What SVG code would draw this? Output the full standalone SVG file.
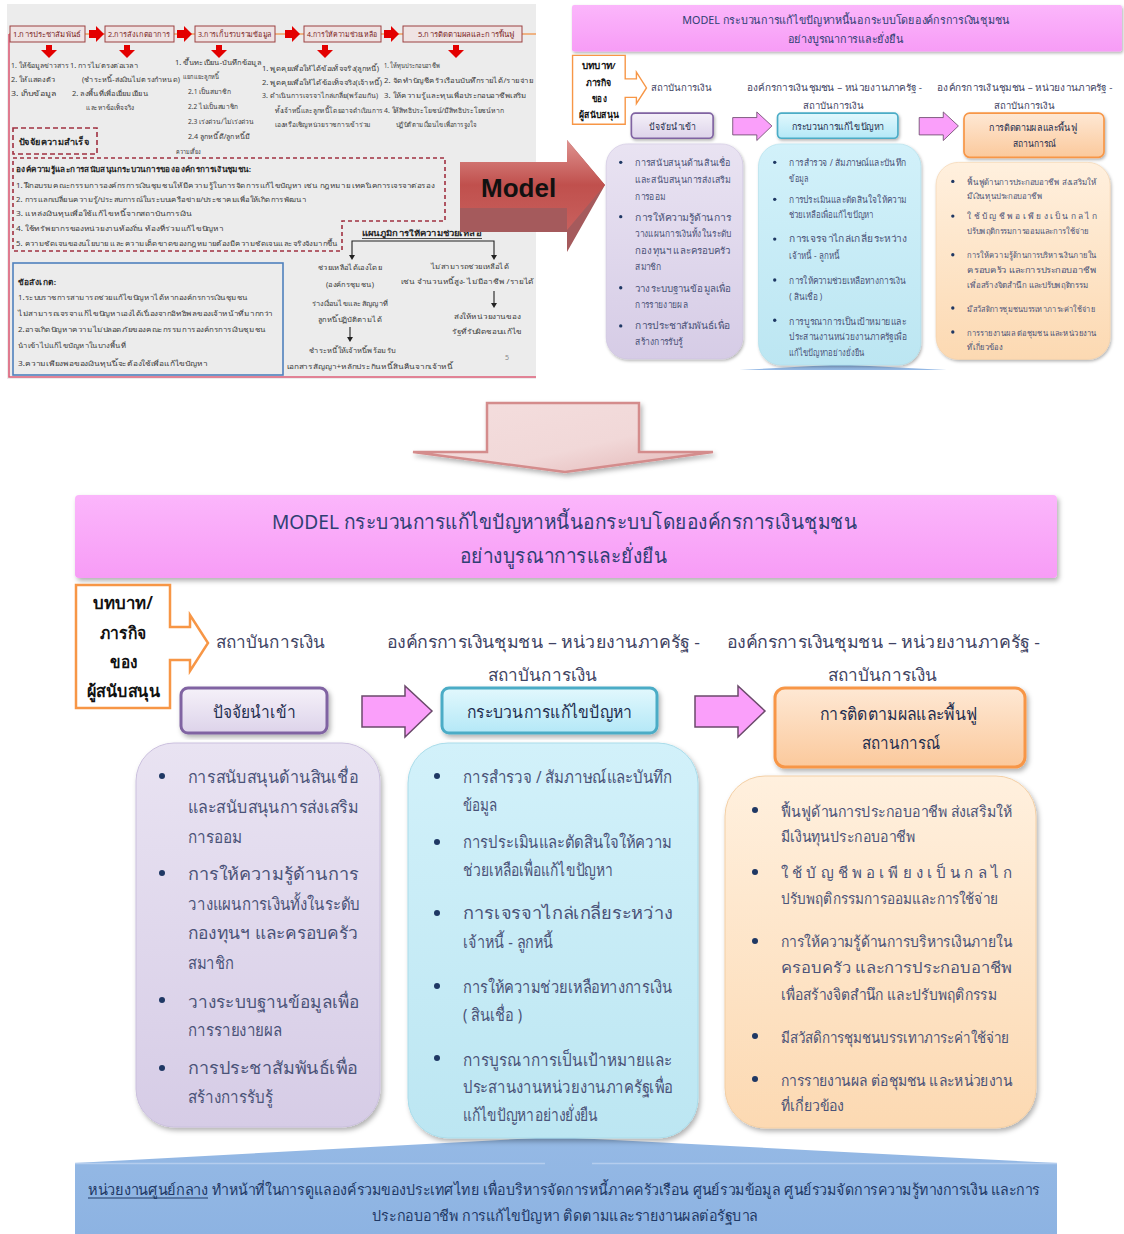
<svg xmlns="http://www.w3.org/2000/svg" xmlns:xlink="http://www.w3.org/1999/xlink" width="1124" height="1234" viewBox="0 0 1124 1234">
<style>
text{font-family:"Noto Sans","DejaVu Sans",sans-serif}
.b{font-size:17px;fill:#4b5378}
.o{font-size:15px;fill:#4b5378}
.lab{font-size:17px;fill:#3f4463}
.hd{font-size:17px;fill:#1f2d4e}
.cl{font-size:17px;fill:#111;font-weight:600}
.bul{fill:#1f3864}
.s{font-size:7px;fill:#3a3a3a}
.sb{font-size:7.5px;fill:#222;font-weight:bold}
.bx{font-size:7.5px;fill:#7a1d1d}
.bt{font-size:15px;fill:#1f3864}
</style>
<defs>
<linearGradient id="gTitle" x1="0" y1="0" x2="0" y2="1"><stop offset="0" stop-color="#fbb6fb"/><stop offset="1" stop-color="#f79cf6"/></linearGradient>
<linearGradient id="gPH" x1="0" y1="0" x2="0" y2="1"><stop offset="0" stop-color="#f5f1f9"/><stop offset="1" stop-color="#ddd3ea"/></linearGradient>
<linearGradient id="gCH" x1="0" y1="0" x2="0" y2="1"><stop offset="0" stop-color="#e2f8fd"/><stop offset="1" stop-color="#b4e8f7"/></linearGradient>
<linearGradient id="gOH" x1="0" y1="0" x2="0" y2="1"><stop offset="0" stop-color="#fee8d4"/><stop offset="1" stop-color="#fbc99c"/></linearGradient>
<linearGradient id="gPB" x1="0" y1="0" x2="0" y2="1"><stop offset="0" stop-color="#e9e3f2"/><stop offset="1" stop-color="#d6cce6"/></linearGradient>
<linearGradient id="gCB" x1="0" y1="0" x2="0" y2="1"><stop offset="0" stop-color="#d2f1fa"/><stop offset="1" stop-color="#bce6f2"/></linearGradient>
<linearGradient id="gOB" x1="0" y1="0" x2="0" y2="1"><stop offset="0" stop-color="#fff0de"/><stop offset="1" stop-color="#fcd9b2"/></linearGradient>
<linearGradient id="gModel" x1="0" y1="0" x2="0" y2="1"><stop offset="0" stop-color="#df9390"/><stop offset="0.5" stop-color="#c0504d"/><stop offset="1" stop-color="#c8605d"/></linearGradient>
<linearGradient id="gDown" x1="0" y1="0" x2="1" y2="1"><stop offset="0" stop-color="#f4dede"/><stop offset="0.6" stop-color="#f1d8d8"/><stop offset="1" stop-color="#e2b4b4"/></linearGradient>
<linearGradient id="gBand" x1="0" y1="0" x2="0" y2="1"><stop offset="0" stop-color="#95b9e5"/><stop offset="1" stop-color="#8db3e2"/></linearGradient>
<filter id="sh" x="-10%" y="-10%" width="125%" height="125%"><feDropShadow dx="2" dy="3" stdDeviation="2.5" flood-color="#000" flood-opacity="0.3"/></filter>
<clipPath id="clipThumb"><rect x="565" y="0" width="559" height="370"/></clipPath>
<clipPath id="clipLeft"><rect x="7" y="4" width="529" height="375"/></clipPath>
</defs>

<!-- ===== Top-left screenshot ===== -->
<g id="screenshot-process" clip-path="url(#clipLeft)">
<rect x="7" y="4" width="529" height="375" fill="#ececec"/>
<line x1="9" y1="34" x2="536" y2="34" stroke="#f0a060" stroke-width="1.3"/>
<path d="M9,34 V377 H536" fill="none" stroke="#dd5f78" stroke-width="1.6"/>
<g id="step-boxes" stroke="#9b4040" stroke-width="1" fill="#efe3e3">
<rect x="10" y="26" width="75" height="16"/>
<rect x="105" y="26" width="69" height="16"/>
<rect x="195" y="26" width="80" height="16"/>
<rect x="304" y="26" width="77" height="16"/>
<rect x="403" y="26" width="119" height="16"/>
</g>
<g class="bx">
<text x="13" y="37" class="bx" textLength="68" lengthAdjust="spacingAndGlyphs">1.การประชาสัมพันธ์</text>
<text x="108" y="37" class="bx" textLength="62" lengthAdjust="spacingAndGlyphs">2.การสังเกตอาการ</text>
<text x="198" y="37" class="bx" textLength="74" lengthAdjust="spacingAndGlyphs">3.การเก็บรวบรวมข้อมูล</text>
<text x="307" y="37" class="bx" textLength="71" lengthAdjust="spacingAndGlyphs">4.การให้ความช่วยเหลือ</text>
<text x="418" y="37" class="bx" textLength="96" lengthAdjust="spacingAndGlyphs">5.การติดตามผลและการฟื้นฟู</text>
</g>
<g id="red-arrows" fill="#e30000">
<polygon points="89,30 96,30 96,26 104,34 96,42 96,38 89,38"/>
<polygon points="177,30 184,30 184,26 192,34 184,42 184,38 177,38"/>
<polygon points="285,30 292,30 292,26 300,34 292,42 292,38 285,38"/>
<polygon points="384,30 391,30 391,26 399,34 391,42 391,38 384,38"/>
<polygon points="46,45 52,45 52,50 57,50 49,58 41,50 46,50"/>
<polygon points="124,45 130,45 130,50 135,50 127,58 119,50 124,50"/>
<polygon points="216,45 222,45 222,50 227,50 219,58 211,50 216,50"/>
<polygon points="322,45 328,45 328,50 333,50 325,58 317,50 322,50"/>
<polygon points="453,45 459,45 459,50 464,50 456,58 448,50 453,50"/>
</g>
<text x="11" y="68" class="s" textLength="58" lengthAdjust="spacingAndGlyphs">1. ให้ข้อมูลข่าวสาร</text>
<text x="11" y="82" class="s" textLength="44" lengthAdjust="spacingAndGlyphs">2. ให้แสดงตัว</text>
<text x="11" y="96" class="s" textLength="45" lengthAdjust="spacingAndGlyphs">3. เก็บข้อมูล</text>
<text x="70" y="68" class="s" textLength="68" lengthAdjust="spacingAndGlyphs">1. การไม่ตรงต่อเวลา</text>
<text x="82" y="82" class="s" textLength="98" lengthAdjust="spacingAndGlyphs">(ชำระหนี้-ส่งเงินไม่ตรงกำหนด)</text>
<text x="72" y="96" class="s" textLength="76" lengthAdjust="spacingAndGlyphs">2. ลงพื้นที่เพื่อเยี่ยมเยียน</text>
<text x="86" y="110" class="s" textLength="48" lengthAdjust="spacingAndGlyphs">และหาข้อเท็จจริง</text>
<text x="175" y="65" class="s" textLength="86" lengthAdjust="spacingAndGlyphs">1. ขึ้นทะเบียน-บันทึกข้อมูล</text>
<text x="183" y="79" class="s" textLength="36" lengthAdjust="spacingAndGlyphs">แยกแยะลูกหนี้</text>
<text x="188" y="94" class="s" textLength="43" lengthAdjust="spacingAndGlyphs">2.1 เป็นสมาชิก</text>
<text x="188" y="109" class="s" textLength="50" lengthAdjust="spacingAndGlyphs">2.2 ไม่เป็นสมาชิก</text>
<text x="188" y="124" class="s" textLength="66" lengthAdjust="spacingAndGlyphs">2.3 เร่งด่วน/ไม่เร่งด่วน</text>
<text x="188" y="139" class="s" textLength="62" lengthAdjust="spacingAndGlyphs">2.4 ลูกหนี้ดี/ลูกหนี้มี</text>
<text x="176" y="154" class="s" textLength="24" lengthAdjust="spacingAndGlyphs">ความเสี่ยง</text>
<text x="262" y="71" class="s" textLength="117" lengthAdjust="spacingAndGlyphs">1. พูดคุยเพื่อให้ได้ข้อเท็จจริง(ลูกหนี้)</text>
<text x="262" y="85" class="s" textLength="120" lengthAdjust="spacingAndGlyphs">2. พูดคุยเพื่อให้ได้ข้อเท็จจริง(เจ้าหนี้)</text>
<text x="262" y="98" class="s" textLength="116" lengthAdjust="spacingAndGlyphs">3. ดำเนินการเจรจาไกล่เกลี่ย(พร้อมกัน)</text>
<text x="275" y="113" class="s" textLength="108" lengthAdjust="spacingAndGlyphs">ทั้งเจ้าหนี้และลูกหนี้โดยอาจดำเนินการ</text>
<text x="275" y="127" class="s" textLength="96" lengthAdjust="spacingAndGlyphs">เองหรือเชิญหน่วยราชการเข้าร่วม</text>
<text x="384" y="68" class="s" textLength="56" lengthAdjust="spacingAndGlyphs">1. ให้ทุนประกอบอาชีพ</text>
<text x="384" y="83" class="s" textLength="149" lengthAdjust="spacingAndGlyphs">2. จัดทำบัญชีครัวเรือนบันทึกรายได้/รายจ่าย</text>
<text x="384" y="98" class="s" textLength="143" lengthAdjust="spacingAndGlyphs">3. ให้ความรู้และทุนเพื่อประกอบอาชีพเสริม</text>
<text x="384" y="113" class="s" textLength="120" lengthAdjust="spacingAndGlyphs">4. ให้สิทธิประโยชน์/มีสิทธิประโยชน์หาก</text>
<text x="396" y="127" class="s" textLength="80" lengthAdjust="spacingAndGlyphs">ปฏิบัติตามเงื่อนไขเพื่อการจูงใจ</text>

<rect x="13" y="128" width="84" height="26" fill="none" stroke="#a03040" stroke-width="1.6" stroke-dasharray="5,3"/>
<text x="19" y="145" class="sb" textLength="70" lengthAdjust="spacingAndGlyphs" style="font-size:8.5px">ปัจจัยความสำเร็จ</text>

<path d="M13,158 H445 V221 H342 V251 H13 Z" fill="none" stroke="#a03040" stroke-width="1.6" stroke-dasharray="4,3"/>
<text x="16" y="172" class="sb" textLength="235" lengthAdjust="spacingAndGlyphs">องค์ความรู้และการสนับสนุนกระบวนการขององค์กรการเงินชุมชน:</text>
<text x="16" y="188" class="s" textLength="418" lengthAdjust="spacingAndGlyphs">1. ฝึกอบรมคณะกรรมการองค์กรการเงินชุมชนให้มีความรู้ในการจัดการแก้ไขปัญหา เช่น กฎหมาย เทคนิคการเจรจาต่อรอง</text>
<text x="16" y="202" class="s" textLength="290" lengthAdjust="spacingAndGlyphs">2. การแลกเปลี่ยนความรู้/ประสบการณ์ในระบบเครือข่าย/ประชาคมเพื่อให้เกิดการพัฒนา</text>
<text x="16" y="216" class="s" textLength="176" lengthAdjust="spacingAndGlyphs">3. แหล่งเงินทุนเพื่อใช้แก้ไขหนี้จากสถาบันการเงิน</text>
<text x="16" y="231" class="s" textLength="208" lengthAdjust="spacingAndGlyphs">4. ใช้ทรัพยากรของหน่วยงานท้องถิ่น ท้องที่ร่วมแก้ไขปัญหา</text>
<text x="16" y="246" class="s" textLength="322" lengthAdjust="spacingAndGlyphs">5. ความชัดเจนของนโยบาย และความเด็ดขาดของกฎหมายต้องมีความชัดเจนและจริงจังมากขึ้น</text>

<rect x="13" y="263" width="270" height="112" fill="none" stroke="#4f81bd" stroke-width="1.6"/>
<text x="18" y="285" class="sb" textLength="38" lengthAdjust="spacingAndGlyphs">ข้อสังเกต:</text>
<text x="18" y="300" class="s" textLength="230" lengthAdjust="spacingAndGlyphs">1.ระบบราชการสามารถช่วยแก้ไขปัญหาได้หากองค์กรการเงินชุมชน</text>
<text x="18" y="316" class="s" textLength="255" lengthAdjust="spacingAndGlyphs">ไม่สามารถเจรจาแก้ไขปัญหาเองได้เนื่องจากอิทธิพลของเจ้าหน้าที่มากกว่า</text>
<text x="18" y="332" class="s" textLength="248" lengthAdjust="spacingAndGlyphs">2.อาจเกิดปัญหาความไม่ปลอดภัยของคณะกรรมการองค์กรการเงินชุมชน</text>
<text x="18" y="348" class="s" textLength="108" lengthAdjust="spacingAndGlyphs">นำเข้าไปแก้ไขปัญหาในบางพื้นที่</text>
<text x="18" y="366" class="s" textLength="190" lengthAdjust="spacingAndGlyphs">3.ความเพียงพอของเงินทุนนี้จะต้องใช้เพื่อแก้ไขปัญหา</text>

<g id="help-chart">
<text x="362" y="236" class="sb" textLength="120" lengthAdjust="spacingAndGlyphs">แผนภูมิการให้ความช่วยเหลือ</text>
<line x1="362" y1="238.5" x2="482" y2="238.5" stroke="#222" stroke-width="0.8"/>
<path d="M352,256 V241 H494 V256 M350,327 V338 M494,291 V304" fill="none" stroke="#222" stroke-width="1.1"/>
<polygon points="349,255 355,255 352,260" fill="#222"/>
<polygon points="491,255 497,255 494,260" fill="#222"/>
<polygon points="347,337 353,337 350,342" fill="#222"/>
<polygon points="491,303 497,303 494,308" fill="#222"/>
<text x="318" y="270" class="s" textLength="64" lengthAdjust="spacingAndGlyphs">ช่วยเหลือได้เองโดย</text>
<text x="326" y="287" class="s" textLength="48" lengthAdjust="spacingAndGlyphs">(องค์กรชุมชน)</text>
<text x="312" y="306" class="s" textLength="76" lengthAdjust="spacingAndGlyphs">ร่างเงื่อนไขและสัญญาที่</text>
<text x="318" y="322" class="s" textLength="64" lengthAdjust="spacingAndGlyphs">ลูกหนี้ปฏิบัติตามได้</text>
<text x="309" y="353" class="s" textLength="86" lengthAdjust="spacingAndGlyphs">ชำระหนี้ให้เจ้าหนี้พร้อมรับ</text>
<text x="287" y="369" class="s" textLength="166" lengthAdjust="spacingAndGlyphs">เอกสารสัญญา+หลักประกันหนี้สินคืนจากเจ้าหนี้</text>
<text x="431" y="269" class="s" textLength="78" lengthAdjust="spacingAndGlyphs">ไม่สามารถช่วยเหลือได้</text>
<text x="401" y="284" class="s" textLength="133" lengthAdjust="spacingAndGlyphs">เช่น จำนวนหนี้สูง- ไม่มีอาชีพ /รายได้</text>
<text x="454" y="319" class="s" textLength="66" lengthAdjust="spacingAndGlyphs">ส่งให้หน่วยงานของ</text>
<text x="452" y="334" class="s" textLength="70" lengthAdjust="spacingAndGlyphs">รัฐที่รับผิดชอบแก้ไข</text>
<text x="505" y="360" class="s" style="fill:#888">5</text>
</g>
</g>

<!-- ===== Top-right thumbnail of model ===== -->
<g id="screenshot-model" clip-path="url(#clipThumb)">
<rect x="565" y="0" width="559" height="370" fill="#ffffff"/>
<use href="#main" xlink:href="#main" transform="translate(530,-272.2) scale(0.56)"/>
</g>

<!-- ===== Model arrow ===== -->
<g id="model-arrow">
<path d="M460,162 H567 V140 L605,185 L567,252 V232 H460 Z" fill="#a55a5c"/>
<path d="M460,162 H567 V140 L605,185 L567,230 V208 H460 Z" fill="url(#gModel)"/>
<text x="481" y="197" style="font-family:'Liberation Sans',Arial,sans-serif;font-size:26px;font-weight:bold;fill:#111">Model</text>
</g>

<!-- ===== Down arrow ===== -->
<g id="down-arrow">
<path d="M487,403 H639 V452 H713 L565,472 L413,452 H487 Z" fill="url(#gDown)" stroke="#d48c8c" stroke-width="2.5" filter="url(#sh)"/>
</g>

<!-- ===== Main model diagram ===== -->
<g id="main">
<g id="central-unit">
<path d="M75,1163 L555,1137 L1057,1163 V1234 H75 Z" fill="url(#gBand)"/>
<path d="M75,1163.5 H545 M592,1163.5 H1057" stroke="#b5cdee" stroke-width="1.5"/>
<text x="88" y="1195" class="bt" textLength="120" lengthAdjust="spacingAndGlyphs">หน่วยงานศูนย์กลาง</text>
<line x1="88" y1="1198" x2="208" y2="1198" stroke="#1f3864" stroke-width="1"/>
<text x="212" y="1195" class="bt" textLength="828" lengthAdjust="spacingAndGlyphs">ทำหน้าที่ในการดูแลองค์รวมของประเทศไทย เพื่อบริหารจัดการหนี้ภาคครัวเรือน ศูนย์รวมข้อมูล ศูนย์รวมจัดการความรู้ทางการเงิน และการ</text>
<text x="372" y="1221" class="bt" textLength="386" lengthAdjust="spacingAndGlyphs">ประกอบอาชีพ การแก้ไขปัญหา ติดตามและรายงานผลต่อรัฐบาล</text>
</g>

<g id="title">
<rect x="75" y="495" width="982" height="83" rx="4" fill="url(#gTitle)" filter="url(#sh)"/>
<text x="272" y="529" style="font-size:20px;fill:#2f3f73" textLength="585" lengthAdjust="spacingAndGlyphs">MODEL กระบวนการแก้ไขปัญหาหนี้นอกระบบโดยองค์กรการเงินชุมชน</text>
<text x="460" y="563" style="font-size:20px;fill:#2f3f73" textLength="207" lengthAdjust="spacingAndGlyphs">อย่างบูรณาการและยั่งยืน</text>
</g>

<g id="role">
<path d="M76,585 H170 V627 H190 V615 L208,643 L190,671 V660 H170 V708 H76 Z" fill="#fff" stroke="#f79646" stroke-width="2.5"/>
<text x="93" y="609" class="cl" textLength="60" lengthAdjust="spacingAndGlyphs">บทบาท/</text>
<text x="100" y="639" class="cl" textLength="46" lengthAdjust="spacingAndGlyphs">ภารกิจ</text>
<text x="110" y="668" class="cl" textLength="27" lengthAdjust="spacingAndGlyphs">ของ</text>
<text x="87" y="697" class="cl" textLength="73" lengthAdjust="spacingAndGlyphs">ผู้สนับสนุน</text>
</g>

<g id="actor-labels">
<text x="216" y="648" class="lab" textLength="109" lengthAdjust="spacingAndGlyphs">สถาบันการเงิน</text>
<text x="387" y="648" class="lab" textLength="313" lengthAdjust="spacingAndGlyphs">องค์กรการเงินชุมชน – หน่วยงานภาครัฐ -</text>
<text x="488" y="681" class="lab" textLength="109" lengthAdjust="spacingAndGlyphs">สถาบันการเงิน</text>
<text x="727" y="648" class="lab" textLength="313" lengthAdjust="spacingAndGlyphs">องค์กรการเงินชุมชน – หน่วยงานภาครัฐ -</text>
<text x="828" y="681" class="lab" textLength="109" lengthAdjust="spacingAndGlyphs">สถาบันการเงิน</text>
</g>

<g id="node-input">
<rect x="181" y="688" width="146" height="45" rx="7" fill="url(#gPH)" stroke="#8064a2" stroke-width="3" filter="url(#sh)"/>
<text x="213" y="718" class="hd" textLength="83" lengthAdjust="spacingAndGlyphs">ปัจจัยนำเข้า</text>
</g>
<g id="node-process">
<rect x="442" y="688" width="215" height="45" rx="7" fill="url(#gCH)" stroke="#4bacc6" stroke-width="3" filter="url(#sh)"/>
<text x="467" y="718" class="hd" textLength="165" lengthAdjust="spacingAndGlyphs">กระบวนการแก้ไขปัญหา</text>
</g>
<g id="node-followup">
<rect x="775" y="688" width="250" height="79" rx="10" fill="url(#gOH)" stroke="#f79646" stroke-width="3" filter="url(#sh)"/>
<text x="820" y="720" class="hd" textLength="157" lengthAdjust="spacingAndGlyphs">การติดตามผลและพื้นฟู</text>
<text x="862" y="749" class="hd" textLength="78" lengthAdjust="spacingAndGlyphs">สถานการณ์</text>
</g>

<g id="connectors" fill="#fa9ffa" stroke="#6b4a6b" stroke-width="1.5">
<path d="M362,696 H405 V686 L432,711 L405,737 V727 H362 Z"/>
<path d="M695,696 H738 V686 L765,711 L738,737 V727 H695 Z"/>
</g>

<g id="node-input-items">
<rect x="136" y="743" width="244" height="384" rx="38" fill="url(#gPB)" stroke="#cbc0de" stroke-width="1" filter="url(#sh)"/>
<g class="bul"><circle cx="162" cy="776" r="3"/><circle cx="162" cy="873" r="3"/><circle cx="162" cy="1000" r="3"/><circle cx="162" cy="1068" r="3"/></g>
<text x="188" y="783" class="b" textLength="170" lengthAdjust="spacingAndGlyphs">การสนับสนุนด้านสินเชื่อ</text>
<text x="188" y="813" class="b" textLength="170" lengthAdjust="spacingAndGlyphs">และสนับสนุนการส่งเสริม</text>
<text x="188" y="843" class="b" textLength="54" lengthAdjust="spacingAndGlyphs">การออม</text>
<text x="188" y="880" class="b" textLength="171" lengthAdjust="spacingAndGlyphs">การให้ความรู้ด้านการ</text>
<text x="188" y="910" class="b" textLength="172" lengthAdjust="spacingAndGlyphs">วางแผนการเงินทั้งในระดับ</text>
<text x="188" y="939" class="b" textLength="170" lengthAdjust="spacingAndGlyphs">กองทุนฯ และครอบครัว</text>
<text x="188" y="969" class="b" textLength="46" lengthAdjust="spacingAndGlyphs">สมาชิก</text>
<text x="188" y="1008" class="b" textLength="171" lengthAdjust="spacingAndGlyphs">วางระบบฐานข้อมูลเพื่อ</text>
<text x="188" y="1036" class="b" textLength="94" lengthAdjust="spacingAndGlyphs">การรายงายผล</text>
<text x="188" y="1074" class="b" textLength="170" lengthAdjust="spacingAndGlyphs">การประชาสัมพันธ์เพื่อ</text>
<text x="188" y="1103" class="b" textLength="85" lengthAdjust="spacingAndGlyphs">สร้างการรับรู้</text>
</g>

<g id="node-process-items">
<rect x="408" y="743" width="290" height="395" rx="40" fill="url(#gCB)" stroke="#a9dcea" stroke-width="1" filter="url(#sh)"/>
<g class="bul"><circle cx="437" cy="776" r="3"/><circle cx="437" cy="842" r="3"/><circle cx="437" cy="913" r="3"/><circle cx="437" cy="986" r="3"/><circle cx="437" cy="1058" r="3"/></g>
<text x="463" y="783" class="b" textLength="209" lengthAdjust="spacingAndGlyphs">การสำรวจ / สัมภาษณ์และบันทึก</text>
<text x="463" y="811" class="b" textLength="34" lengthAdjust="spacingAndGlyphs">ข้อมูล</text>
<text x="463" y="848" class="b" textLength="209" lengthAdjust="spacingAndGlyphs">การประเมินและตัดสินใจให้ความ</text>
<text x="463" y="876" class="b" textLength="150" lengthAdjust="spacingAndGlyphs">ช่วยเหลือเพื่อแก้ไขปัญหา</text>
<text x="463" y="919" class="b" textLength="210" lengthAdjust="spacingAndGlyphs">การเจรจาไกล่เกลี่ยระหว่าง</text>
<text x="463" y="948" class="b" textLength="90" lengthAdjust="spacingAndGlyphs">เจ้าหนี้ - ลูกหนี้</text>
<text x="463" y="993" class="b" textLength="209" lengthAdjust="spacingAndGlyphs">การให้ความช่วยเหลือทางการเงิน</text>
<text x="463" y="1021" class="b" textLength="59" lengthAdjust="spacingAndGlyphs">( สินเชื่อ )</text>
<text x="463" y="1066" class="b" textLength="209" lengthAdjust="spacingAndGlyphs">การบูรณาการเป็นเป้าหมายและ</text>
<text x="463" y="1093" class="b" textLength="210" lengthAdjust="spacingAndGlyphs">ประสานงานหน่วยงานภาครัฐเพื่อ</text>
<text x="463" y="1121" class="b" textLength="135" lengthAdjust="spacingAndGlyphs">แก้ไขปัญหาอย่างยั่งยืน</text>
</g>

<g id="node-followup-items">
<rect x="725" y="776" width="311" height="352" rx="40" fill="url(#gOB)" stroke="#f3cfa5" stroke-width="1" filter="url(#sh)"/>
<g class="bul"><circle cx="755" cy="810" r="3"/><circle cx="755" cy="872" r="3"/><circle cx="755" cy="941" r="3"/><circle cx="755" cy="1036" r="3"/><circle cx="755" cy="1079" r="3"/></g>
<text x="781" y="817" class="o" textLength="231" lengthAdjust="spacingAndGlyphs">ฟื้นฟูด้านการประกอบอาชีพ ส่งเสริมให้</text>
<text x="781" y="842" class="o" textLength="134" lengthAdjust="spacingAndGlyphs">มีเงินทุนประกอบอาชีพ</text>
<text x="781" y="878" class="o" textLength="231" lengthAdjust="spacing">ใช้บัญชีพอเพียงเป็นกลไก</text>
<text x="781" y="904" class="o" textLength="217" lengthAdjust="spacingAndGlyphs">ปรับพฤติกรรมการออมและการใช้จ่าย</text>
<text x="781" y="947" class="o" textLength="231" lengthAdjust="spacingAndGlyphs">การให้ความรู้ด้านการบริหารเงินภายใน</text>
<text x="781" y="973" class="o" textLength="231" lengthAdjust="spacingAndGlyphs">ครอบครัว และการประกอบอาชีพ</text>
<text x="781" y="1000" class="o" textLength="216" lengthAdjust="spacingAndGlyphs">เพื่อสร้างจิตสำนึก และปรับพฤติกรรม</text>
<text x="781" y="1043" class="o" textLength="228" lengthAdjust="spacingAndGlyphs">มีสวัสดิการชุมชนบรรเทาภาระค่าใช้จ่าย</text>
<text x="781" y="1086" class="o" textLength="231" lengthAdjust="spacingAndGlyphs">การรายงานผล ต่อชุมชน และหน่วยงาน</text>
<text x="781" y="1111" class="o" textLength="63" lengthAdjust="spacingAndGlyphs">ที่เกี่ยวข้อง</text>
</g>
</g>
</svg>
